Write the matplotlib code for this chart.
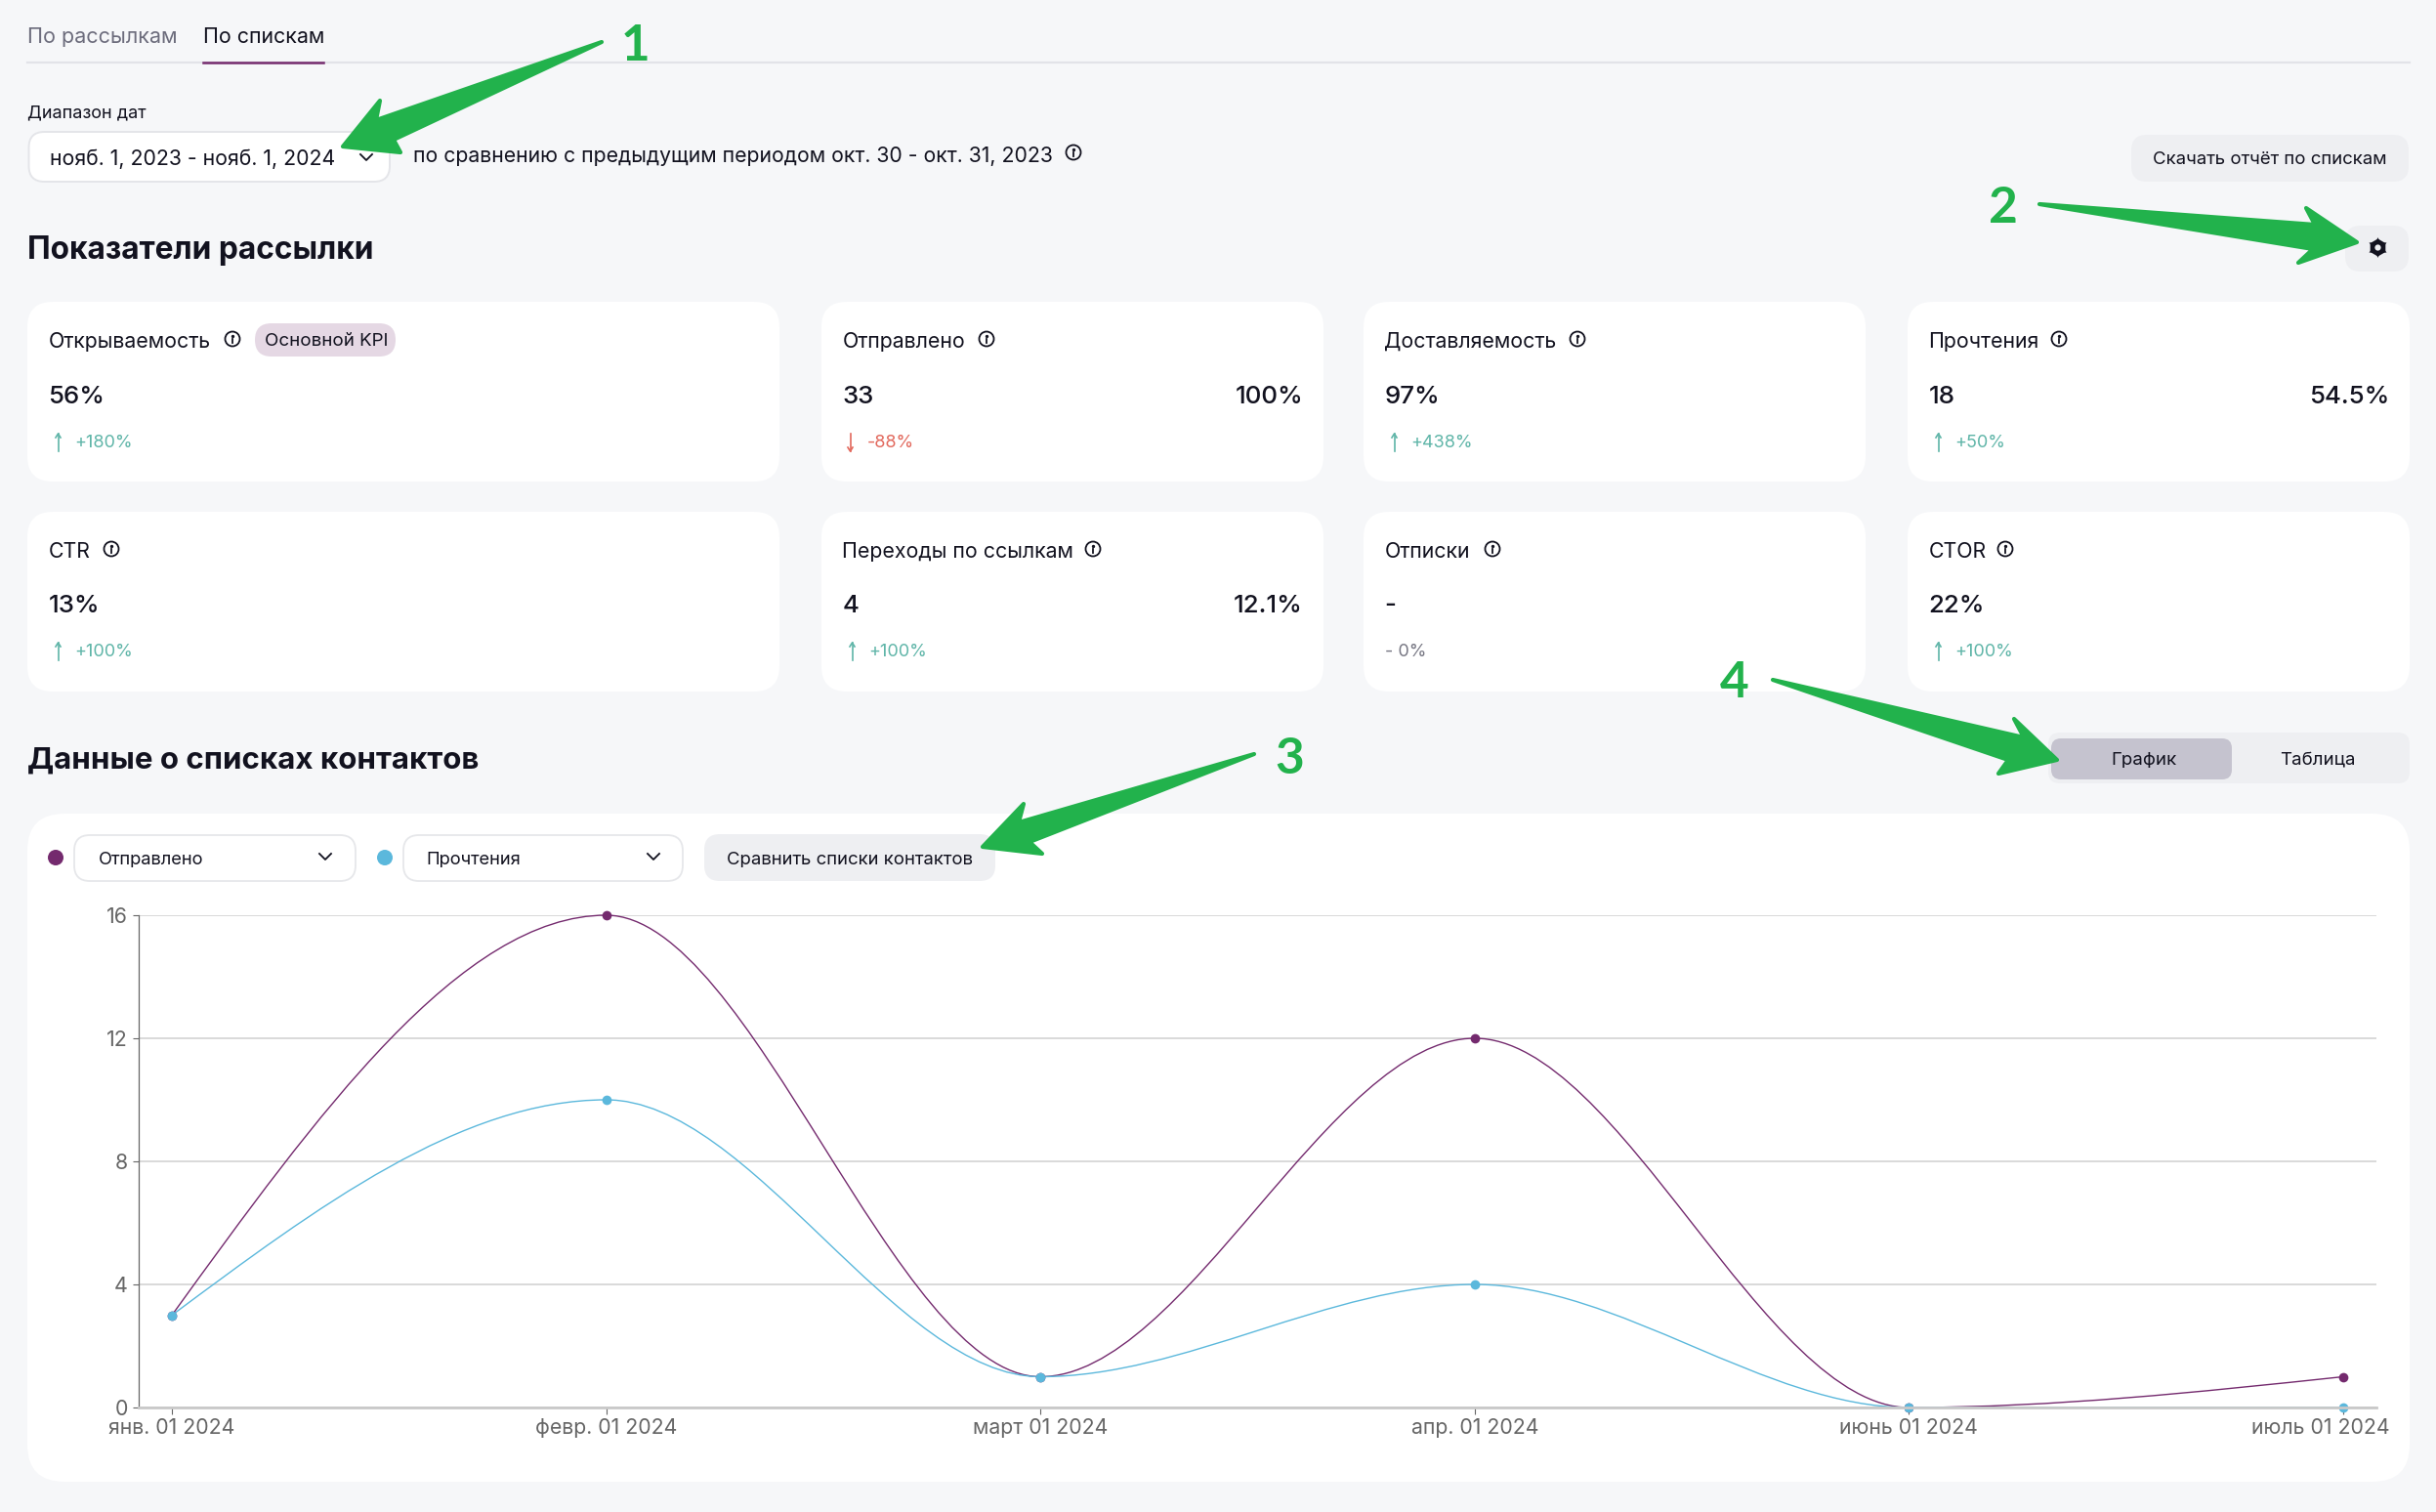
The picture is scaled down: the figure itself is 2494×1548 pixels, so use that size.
import matplotlib
matplotlib.use('Agg')
import matplotlib.pyplot as plt
from matplotlib.patches import FancyBboxPatch, Circle, Polygon
from matplotlib.path import Path
from matplotlib.patches import PathPatch
from matplotlib.transforms import ScaledTranslation

plt.rcParams['font.family'] = ['Inter', 'DejaVu Sans']

W, H = 2494, 1548
BG = '#F6F7F9'
DARK = '#12121F'
GREEN = '#22B24C'
UP = '#5FB5A8'
DOWN = '#E2685C'
PURPLE = '#742A6E'
BLUE = '#5BB8DC'

# данные графика
months = ['янв. 01 2024', 'февр. 01 2024', 'март 01 2024', 'апр. 01 2024', 'июнь 01 2024', 'июль 01 2024']
sent = [3, 16, 1, 12, 0, 1]
reads = [3, 10, 1, 4, 0, 0]
y_ticks = [0, 4, 8, 12, 16]

# карточки показателей
card_labels = ['Открываемость', 'Отправлено', 'Доставляемость', 'Прочтения',
               'CTR', 'Переходы по ссылкам', 'Отписки', 'CTOR']
card_values = ['56%', '33', '97%', '18', '13%', '4', '-', '22%']
card_shares = ['', '100%', '', '54.5%', '', '12.1%', '', '']
card_deltas = ['+180%', '-88%', '+438%', '+50%', '+100%', '+100%', '- 0%', '+100%']
card_left = [28, 841, 1396, 1953]
card_right = [798, 1355, 1910, 2467]
card_info_x = [238, 1010, 1615, 2108, 114, 1119, 1528, 2053]

fig = plt.figure(figsize=(W / 100, H / 100), dpi=100, facecolor=BG)
ui = fig.add_axes([0, 0, 1, 1], zorder=0)
ui.set_xlim(0, W)
ui.set_ylim(H, 0)
ui.axis('off')


def box(x0, y0, x1, y1, r, fc, ec='none', lw=0):
    ui.add_patch(FancyBboxPatch((x0, y0), x1 - x0, y1 - y0, boxstyle=f'round,pad=0,rounding_size={r}',
                                fc=fc, ec=ec, lw=lw))


def label(x, y, s, size=15.3, color=DARK, ha='left', weight='normal'):
    ui.text(x, y, s, fontsize=size, color=color, ha=ha, va='center_baseline', fontweight=weight)


def info(x, y):
    ui.add_patch(Circle((x, y), 7.5, fc='none', ec=DARK, lw=1.3))
    ui.plot([x, x], [y - 0.5, y + 3.5], color=DARK, lw=1.3)
    ui.plot([x], [y - 3], marker='o', ms=1.4, color=DARK)


def chevron(x, y):
    ui.plot([x - 6, x, x + 6], [y - 3, y + 3, y - 3], color=DARK, lw=1.3)


def arrow_mark(x, y, color, up=True):
    top, bottom = y - 9, y + 9
    ui.plot([x, x], [top, bottom], color=color, lw=1.2)
    tip = top if up else bottom
    d = 4 if up else -4
    ui.plot([x - 2.5, x, x + 2.5], [tip + d, tip, tip + d], color=color, lw=1.2)


def green_arrow(points):
    ui.add_patch(Polygon(points, closed=True, fc=GREEN, ec=GREEN, lw=3, joinstyle='round', zorder=5))


def monotone_path(ys):
    # кубическая монотонная кривая, как рисует график в браузере
    n = len(ys)
    slopes = [ys[i + 1] - ys[i] for i in range(n - 1)]
    tang = [0.0] * n
    for i in range(1, n - 1):
        a, b = slopes[i - 1], slopes[i]
        if a * b > 0:
            s = 1 if a > 0 else -1
            tang[i] = s * min(abs(a), abs(b), 0.25 * abs(a + b)) * 2
    tang[0] = (3 * slopes[0] - tang[1]) / 2
    tang[-1] = (3 * slopes[-1] - tang[-2]) / 2
    verts = [(0, ys[0])]
    codes = [Path.MOVETO]
    for i in range(n - 1):
        verts += [(i + 1 / 3, ys[i] + tang[i] / 3), (i + 2 / 3, ys[i + 1] - tang[i + 1] / 3), (i + 1, ys[i + 1])]
        codes += [Path.CURVE4] * 3
    return Path(verts, codes)


# вкладки
ui.plot([28, 2467], [64, 64], color='#E2E3E8', lw=1.6)
ui.plot([208, 331], [64, 64], color=PURPLE, lw=1.8)
label(28, 35.5, 'По рассылкам', color='#6C6C7C', size=15.5)
label(208, 35.5, 'По спискам', size=15.4)

# диапазон дат
label(28, 114, 'Диапазон дат', size=13)
box(29.5, 135, 399, 186, 16, 'white', ec='#E4E5E9', lw=1.4)
label(51, 161, 'нояб. 1, 2023 - нояб. 1, 2024')
chevron(375, 161)
label(423, 158, 'по сравнению с предыдущим периодом окт. 30 - окт. 31, 2023', size=15.28)
info(1099, 156)
box(2182, 138, 2466, 186, 16, '#EEEFF2')
label(2204, 162, 'Скачать отчёт по спискам', size=13.4)
box(2401, 231, 2466, 278, 16, '#EEEFF2')
ui.plot([2434], [253], marker=(6, 1, 0), ms=15, color=DARK, mew=0)
ui.plot([2434], [253], marker='h', ms=13, color=DARK, mew=0)
ui.plot([2434], [253], marker='o', ms=4.5, color='#EEEFF2', mew=0)

label(28, 253.5, 'Показатели рассылки', size=22.8, weight='bold')

# карточки
for i in range(8):
    col = i % 4
    row = i // 4
    y0 = [309, 524][row]
    y1 = [493, 708][row]
    box(card_left[col], y0, card_right[col], y1, 26, 'white')
    tx = card_left[col] + 21.5
    ly = [348, 563][row]
    label(tx, ly, card_labels[i], size=15.35)
    info(card_info_x[i], ly - 1)
    vy = [404, 618][row]
    label(tx, vy, card_values[i], size=18.6, weight='medium')
    if card_shares[i]:
        label(card_right[col] - 21, vy, card_shares[i], size=18.6, ha='right', weight='medium')
    dy = [451, 665][row]
    if card_deltas[i].startswith('+'):
        arrow_mark(tx + 10, dy + 2, UP, up=True)
        label(tx + 27, dy, card_deltas[i], size=13, color=UP)
    elif card_deltas[i].startswith('- '):
        label(tx, dy, card_deltas[i], size=13, color='#777783')
    else:
        arrow_mark(tx + 8, dy + 2, DOWN, up=False)
        label(tx + 25, dy, card_deltas[i], size=13, color=DOWN)
box(261, 331, 405, 365, 17, '#E5D8E4')
label(271, 348, 'Основной KPI', size=13.5)

# блок контактов
label(28, 775.5, 'Данные о списках контактов', size=22.5, weight='bold')
box(2097, 750, 2467, 802, 12, '#EEEFF2')
box(2100, 756, 2285, 798, 10, '#C5C3CF')
label(2195, 776, 'График', size=13.5, ha='center')
label(2373, 776, 'Таблица', size=13.5, ha='center')

box(28, 833, 2467, 1517, 38, 'white')
ui.add_patch(Circle((57, 878), 8, fc=PURPLE, ec='none'))
box(76, 855, 364, 902, 16, 'white', ec='#E6E7EA', lw=1.3)
label(101, 878, 'Отправлено', size=13.2)
chevron(333, 877)
ui.add_patch(Circle((394, 878), 8, fc=BLUE, ec='none'))
box(413, 855, 699, 902, 16, 'white', ec='#E6E7EA', lw=1.3)
label(436, 878, 'Прочтения', size=13.2)
chevron(669, 877)
box(721, 854, 1019, 902, 16, '#EEEFF2')
label(744, 878, 'Сравнить списки контактов', size=13.35)

# график
left, right, top, bottom = 142, 2433, 937, 1441
ax = fig.add_axes([left / W, 1 - bottom / H, (right - left) / W, (bottom - top) / H], zorder=1)
ax.patch.set_alpha(0)
step = (2399 - 176) / 5
ax.set_xlim(-(176 - left) / step, 5 + (right - 2399) / step)
ax.set_ylim(0, 16)
for name in ['top', 'right']:
    ax.spines[name].set_visible(False)
ax.spines['left'].set_color('#666666')
ax.spines['left'].set_linewidth(0.9)
ax.spines['bottom'].set_color('#C9C9C9')
ax.spines['bottom'].set_linewidth(2)
ax.set_yticks(y_ticks)
ax.set_xticks(range(len(months)))
ax.set_xticklabels(months)
ax.grid(axis='y', color='#CFCFCF', lw=1.1)
ax.set_axisbelow(True)
ax.tick_params(axis='y', length=4.5, width=0.8, color='#666666', pad=3.5, labelsize=15.4, labelcolor='#666666')
ax.tick_params(axis='x', length=5, width=0.8, color='#666666', pad=3, labelsize=15.3, labelcolor='#666666')

# подпись последней даты сдвинута влево, чтобы поместиться
last = ax.get_xticklabels()[-1]
last.set_transform(last.get_transform() + ScaledTranslation(-0.23, 0, fig.dpi_scale_trans))

ax.add_patch(PathPatch(monotone_path(sent), fc='none', ec=PURPLE, lw=1.0, clip_on=False))
ax.add_patch(PathPatch(monotone_path(reads), fc='none', ec=BLUE, lw=1.0, clip_on=False))
ax.plot(range(len(sent)), sent, ls='none', marker='o', ms=7, color=PURPLE, mew=0, clip_on=False)
ax.plot(range(len(reads)), reads, ls='none', marker='o', ms=7, color=BLUE, mew=0, clip_on=False)

# зелёные стрелки и номера
green_arrow([(616, 43), (403, 143), (410, 156), (351, 150), (389, 103), (385, 123)])
green_arrow([(2088, 209), (2370, 230), (2361, 213), (2413, 248), (2353, 269), (2368, 255)])
green_arrow([(1284, 772), (1054, 862), (1067, 874), (1006, 867), (1048, 823), (1043, 842)])
green_arrow([(1815, 696), (2072, 755), (2062, 736), (2106, 778), (2046, 792), (2056, 778)])
for x, y, s in [(651, 48, '1'), (2051, 214, '2'), (1320, 777, '3'), (1776, 700, '4')]:
    ui.text(x, y, s, fontsize=37, color=GREEN, ha='center', va='center', fontweight='bold', family='Lato')

fig.savefig('out.png', dpi=100, facecolor=BG)
